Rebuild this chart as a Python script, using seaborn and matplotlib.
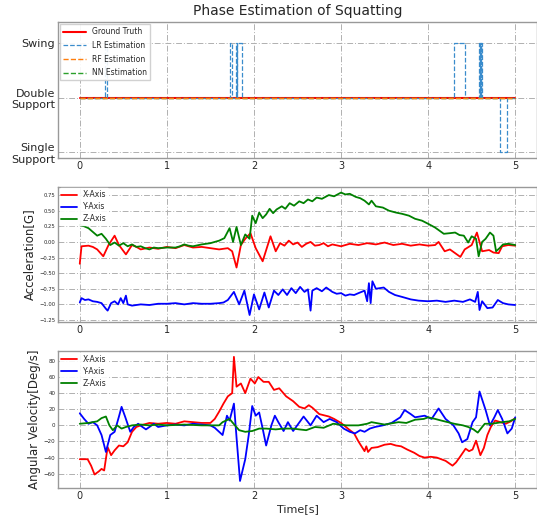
import numpy as np
import pandas as pd
import matplotlib
matplotlib.use('Agg')
import matplotlib.pyplot as plt
import seaborn as sns

# phase levels
phase_names = ['Single\nSupport', 'Double\nSupport', 'Swing']

# ground truth / RF / NN stay in double support the whole time
gt_t = [0.0, 5.0]
gt_phase = [1, 1]
rf_phase = [1, 1]
nn_phase = [1, 1]

# LR estimation: (start, end, phase) pulses away from double support
lr_pulses = [(0.29, 0.31, 2), (1.72, 1.75, 2), (1.79, 1.80, 2), (1.81, 1.86, 2),
             (4.30, 4.42, 2), (4.585, 4.592, 2), (4.597, 4.604, 2), (4.608, 4.615, 2),
             (4.82, 4.90, 0)]

# acceleration [G]
acc_x_t = [0.0, 0.02, 0.1, 0.15, 0.2, 0.27, 0.33, 0.4, 0.45, 0.53, 0.6, 0.65, 0.7, 0.8, 0.9, 1.0, 1.1, 1.2, 1.3, 1.4,
           1.5, 1.6, 1.7, 1.75, 1.8, 1.85, 1.9, 1.96, 2.02, 2.1, 2.19, 2.25, 2.3, 2.35, 2.4, 2.45, 2.5, 2.55, 2.6, 2.65,
           2.7, 2.75, 2.8, 2.85, 2.9, 3.0, 3.1, 3.2, 3.3, 3.4, 3.5, 3.6, 3.7, 3.8, 3.9, 4.0, 4.08, 4.12, 4.19, 4.25,
           4.3, 4.37, 4.42, 4.5, 4.56, 4.62, 4.7, 4.75, 4.81, 4.85, 4.92, 5.0]
acc_x = [-0.35, -0.07, -0.06, -0.08, -0.12, -0.23, -0.05, 0.10, -0.05, -0.2, -0.05, -0.08, -0.12, -0.09, -0.11, -0.08,
         -0.10, -0.05, -0.09, -0.08, -0.10, -0.12, -0.1, -0.15, -0.41, -0.05, 0.05, 0.14, -0.1, -0.31, 0.09, -0.15,
         -0.02, -0.06, 0.02, -0.04, -0.01, -0.08, -0.03, 0.0, -0.06, -0.05, -0.02, -0.07, -0.04, -0.07, -0.03, -0.05,
         -0.02, -0.04, -0.01, -0.05, -0.03, -0.06, -0.04, -0.06, -0.05, 0.0, -0.15, -0.12, -0.17, -0.24, -0.12, -0.05,
         0.15, -0.15, -0.13, -0.17, -0.18, -0.07, -0.05, -0.06]

acc_y_t = [0.0, 0.02, 0.06, 0.1, 0.15, 0.2, 0.25, 0.3, 0.32, 0.36, 0.4, 0.44, 0.47, 0.5, 0.53, 0.55, 0.6, 0.7, 0.8, 0.9,
           1.0, 1.1, 1.2, 1.3, 1.4, 1.5, 1.6, 1.65, 1.7, 1.77, 1.83, 1.89, 1.95, 2.0, 2.06, 2.12, 2.17, 2.23, 2.28, 2.33,
           2.38, 2.43, 2.48, 2.53, 2.58, 2.62, 2.65, 2.67, 2.72, 2.78, 2.83, 2.9, 2.95, 3.0, 3.05, 3.1, 3.15, 3.2, 3.27,
           3.3, 3.32, 3.34, 3.36, 3.4, 3.49, 3.55, 3.62, 3.7, 3.8, 3.89, 4.0, 4.1, 4.2, 4.3, 4.4, 4.48, 4.54, 4.57,
           4.59, 4.62, 4.68, 4.74, 4.8, 4.86, 4.92, 5.0]
acc_y = [-0.97, -0.9, -0.93, -0.92, -0.95, -0.96, -0.98, -1.07, -1.10, -0.98, -0.95, -1.0, -0.9, -0.98, -0.86, -1.0,
         -1.02, -1.0, -1.01, -0.99, -0.99, -0.98, -1.0, -0.98, -0.99, -0.99, -0.98, -0.97, -0.93, -0.8, -1.0, -0.78,
         -1.17, -0.84, -1.08, -0.81, -1.05, -0.78, -0.85, -0.76, -0.85, -0.74, -0.82, -0.72, -0.8, -0.76, -1.10, -0.78,
         -0.74, -0.79, -0.73, -0.8, -0.83, -0.82, -0.86, -0.84, -0.85, -0.82, -0.78, -0.95, -0.66, -0.98, -0.63, -0.75,
         -0.73, -0.8, -0.85, -0.88, -0.92, -0.94, -0.95, -0.94, -0.96, -0.94, -0.96, -0.92, -0.96, -0.8, -1.09, -0.95,
         -1.06, -1.05, -0.93, -0.98, -1.0, -1.01]

acc_z_t = [0.0, 0.05, 0.1, 0.15, 0.2, 0.25, 0.3, 0.35, 0.4, 0.45, 0.5, 0.55, 0.6, 0.65, 0.7, 0.75, 0.8, 0.85, 0.9, 1.0,
           1.1, 1.15, 1.2, 1.25, 1.3, 1.4, 1.5, 1.6, 1.66, 1.72, 1.76, 1.8, 1.85, 1.9, 1.95, 1.98, 2.02, 2.06, 2.1, 2.14,
           2.18, 2.22, 2.26, 2.32, 2.36, 2.41, 2.46, 2.52, 2.57, 2.62, 2.67, 2.72, 2.78, 2.86, 2.92, 3.0, 3.05, 3.1,
           3.17, 3.22, 3.27, 3.32, 3.35, 3.4, 3.48, 3.55, 3.63, 3.7, 3.78, 3.85, 3.93, 4.0, 4.08, 4.13, 4.18, 4.25, 4.31,
           4.36, 4.41, 4.46, 4.5, 4.55, 4.58, 4.62, 4.66, 4.71, 4.75, 4.78, 4.82, 4.86, 4.92, 5.0]
acc_z = [0.27, 0.25, 0.22, 0.16, 0.10, 0.13, 0.05, -0.05, -0.01, -0.06, -0.02, -0.07, -0.04, -0.08, -0.07, -0.1, -0.12,
         -0.09, -0.1, -0.09, -0.09, -0.07, -0.04, -0.06, -0.07, -0.04, -0.02, 0.02, 0.06, 0.22, 0.0, 0.24, -0.05, 0.12,
         0.05, 0.42, 0.30, 0.47, 0.38, 0.44, 0.53, 0.46, 0.52, 0.57, 0.53, 0.62, 0.58, 0.65, 0.62, 0.68, 0.65, 0.71,
         0.69, 0.75, 0.73, 0.79, 0.76, 0.77, 0.72, 0.7, 0.66, 0.6, 0.66, 0.57, 0.55, 0.5, 0.47, 0.45, 0.42, 0.37, 0.34,
         0.29, 0.23, 0.18, 0.13, 0.14, 0.15, 0.11, 0.1, -0.01, 0.09, 0.05, -0.23, 0.0, 0.05, 0.15, 0.1, -0.15, -0.1,
         -0.04, -0.03, -0.05]

# angular velocity [deg/s]
gyr_x_t = [0.0, 0.09, 0.13, 0.17, 0.22, 0.25, 0.28, 0.32, 0.36, 0.4, 0.45, 0.5, 0.55, 0.6, 0.65, 0.7, 0.8, 0.9, 1.0, 1.1,
           1.2, 1.3, 1.4, 1.5, 1.55, 1.6, 1.65, 1.7, 1.75, 1.77, 1.8, 1.85, 1.9, 1.96, 2.01, 2.05, 2.11, 2.17, 2.23,
           2.29, 2.37, 2.45, 2.52, 2.58, 2.63, 2.67, 2.75, 2.86, 2.92, 3.0, 3.09, 3.15, 3.2, 3.27, 3.29, 3.31, 3.35,
           3.42, 3.5, 3.57, 3.63, 3.69, 3.76, 3.84, 3.9, 3.96, 4.03, 4.1, 4.15, 4.2, 4.28, 4.32, 4.36, 4.43, 4.47, 4.51,
           4.55, 4.6, 4.64, 4.68, 4.72, 4.77, 4.83, 4.89, 4.95, 5.0]
gyr_x = [-42, -42, -50, -61, -57, -54, -56, -27, -37, -31, -25, -26, -21, -8, -2, 0, 3, 2, 3, 2, 5, 4, 3, 3, 8, 17, 27,
         36, 40, 85, 48, 52, 40, 58, 52, 60, 54, 54, 44, 46, 36, 30, 23, 21, 25, 22, 14, 11, 8, 3, -5, -10, -20, -32,
         -26, -33, -28, -27, -24, -23, -25, -26, -30, -34, -38, -40, -39, -40, -42, -44, -50, -46, -40, -29, -32, -30,
         -19, -37, -28, -12, -2, 6, 4, 2, 5, 9]

gyr_y_t = [0.0, 0.05, 0.1, 0.15, 0.2, 0.25, 0.3, 0.35, 0.4, 0.45, 0.48, 0.52, 0.58, 0.62, 0.67, 0.72, 0.76, 0.8, 0.85,
           0.9, 1.0, 1.1, 1.2, 1.3, 1.4, 1.5, 1.55, 1.6, 1.64, 1.69, 1.72, 1.77, 1.8, 1.84, 1.9, 1.94, 1.98, 2.02, 2.06,
           2.1, 2.14, 2.2, 2.24, 2.28, 2.34, 2.39, 2.45, 2.51, 2.57, 2.65, 2.72, 2.8, 2.87, 2.95, 3.03, 3.1, 3.16, 3.22,
           3.27, 3.33, 3.39, 3.48, 3.58, 3.68, 3.73, 3.8, 3.85, 3.96, 4.04, 4.12, 4.2, 4.29, 4.35, 4.39, 4.45, 4.51,
           4.55, 4.59, 4.66, 4.71, 4.76, 4.8, 4.85, 4.91, 4.96, 5.0]
gyr_y = [15, 8, 2, 4, 0, -12, -33, -12, -8, 11, 23, 11, -8, -2, 2, -2, -5, -2, 2, -2, 0, 1, 0, 2, 1, 0, -3, -8, -12, 12,
         6, 27, -15, -69, -42, -12, 24, 12, 16, -4, -25, 0, 12, 4, -7, 4, -7, 2, 11, 0, 12, 4, 8, 4, -4, -8, -10, -6,
         -8, -4, -2, 0, 3, 10, 19, 14, 10, 12, 8, 21, 8, 0, -10, -21, -17, 4, 10, 42, 19, 0, 10, 19, 8, -10, -4, 10]

gyr_z_t = [0.0, 0.1, 0.15, 0.2, 0.25, 0.3, 0.34, 0.38, 0.43, 0.48, 0.53, 0.6, 0.7, 0.8, 0.9, 1.0, 1.2, 1.4, 1.6, 1.64,
           1.72, 1.75, 1.83, 1.9, 1.98, 2.06, 2.14, 2.25, 2.34, 2.45, 2.52, 2.6, 2.7, 2.8, 2.91, 3.06, 3.2, 3.3, 3.35,
           3.5, 3.66, 3.75, 3.85, 3.95, 4.0, 4.08, 4.15, 4.3, 4.4, 4.46, 4.52, 4.57, 4.62, 4.65, 4.73, 4.85, 4.93, 5.0]
gyr_z = [2, 3, 4, 5, 9, 11, 0, -6, 0, -4, -2, 0, 1, 0, 1, 0, 1, 0, 0, 4, 8, 4, -6, -8, -7, -4, -4, -5, -4, -4, -5, -6,
         -2, -3, 2, 0, 0, 2, 4, 1, 4, 3, 7, 8, 10, 8, 6, 2, 0, -2, -5, -9, -2, 2, 2, 4, 5, 8]

# build LR step series from the pulses
lr_t = [0.0]
lr_phase = [1]
for start, end, level in lr_pulses:
    lr_t += [start, start, end, end]
    lr_phase += [1, level, level, 1]
lr_t.append(5.0)
lr_phase.append(1)

sns.set_style("whitegrid")
plt.rcParams['font.family'] = ['DejaVu Sans']

fig = plt.figure(figsize=(5.37, 5.15), dpi=100)
ax1 = fig.add_axes([0.108, 0.693, 0.892, 0.264])
ax2 = fig.add_axes([0.108, 0.375, 0.892, 0.262])
ax3 = fig.add_axes([0.108, 0.052, 0.892, 0.266])

grid_kw = dict(color='#b0b0b0', linestyle=(0, (6, 2, 1, 2)), linewidth=0.7)

# phase panel
sns.lineplot(x=gt_t, y=gt_phase, ax=ax1, color='red', linewidth=1.5, label='Ground Truth')
sns.lineplot(x=lr_t, y=lr_phase, ax=ax1, color='#3a8ccc', linewidth=0.9, linestyle='--',
             estimator=None, sort=False, label='LR Estimation')
sns.lineplot(x=gt_t, y=nn_phase, ax=ax1, color='#2ca02c', linewidth=1.0, linestyle='--', label='NN Estimation')
sns.lineplot(x=gt_t, y=rf_phase, ax=ax1, color='#ff7f0e', linewidth=1.0, linestyle='--', label='RF Estimation')
h, l = ax1.get_legend_handles_labels()
order = [0, 1, 3, 2]
ax1.legend([h[i] for i in order], [l[i] for i in order], loc='upper left', fontsize=5.5,
           frameon=True, edgecolor='#cccccc', framealpha=0.9, fancybox=False, handlelength=3,
           labelspacing=0.6, borderaxespad=0.3)
ax1.set_yticks([0, 1, 2])
ax1.set_yticklabels(phase_names, fontsize=8)
ax1.set_ylim(-0.11, 2.39)
ax1.set_title('Phase Estimation of Squatting', fontsize=10, pad=5)

# acceleration panel
sns.lineplot(x=acc_x_t, y=acc_x, ax=ax2, color='red', linewidth=1.3, estimator=None, label='X-Axis')
sns.lineplot(x=acc_y_t, y=acc_y, ax=ax2, color='blue', linewidth=1.3, estimator=None, label='Y-Axis')
sns.lineplot(x=acc_z_t, y=acc_z, ax=ax2, color='green', linewidth=1.3, estimator=None, label='Z-Axis')
ax2.legend(loc='upper left', fontsize=5.5, frameon=True, edgecolor='white', framealpha=0.9,
           labelspacing=0.4, borderaxespad=0.2, borderpad=0.25)
ax2.set_yticks(np.arange(-1.25, 0.76, 0.25))
ax2.set_ylim(-1.28, 0.88)
ax2.set_ylabel('Acceleration[G]', fontsize=8.5, labelpad=2)

# gyro panel
sns.lineplot(x=gyr_x_t, y=gyr_x, ax=ax3, color='red', linewidth=1.3, estimator=None, label='X-Axis')
sns.lineplot(x=gyr_y_t, y=gyr_y, ax=ax3, color='blue', linewidth=1.3, estimator=None, label='Y-Axis')
sns.lineplot(x=gyr_z_t, y=gyr_z, ax=ax3, color='green', linewidth=1.3, estimator=None, label='Z-Axis')
ax3.legend(loc='upper left', fontsize=5.5, frameon=True, edgecolor='white', framealpha=0.9,
           labelspacing=0.4, borderaxespad=0.2, borderpad=0.25)
ax3.set_yticks(np.arange(-60, 81, 20))
ax3.set_ylim(-78, 92)
ax3.set_ylabel('Angular Velocity[Deg/s]', fontsize=8.5, labelpad=2)
ax3.set_xlabel('Time[s]', fontsize=8, labelpad=2)

for ax in (ax1, ax2, ax3):
    ax.set_xlim(-0.25, 5.25)
    ax.set_xticks(range(6))
    ax.grid(True, **grid_kw)
    ax.tick_params(axis='x', labelsize=7, pad=2, length=0)
    ax.tick_params(axis='y', length=0, pad=2)
    for s in ax.spines.values():
        s.set_color('#999999')
        s.set_linewidth(1.0)
ax2.tick_params(axis='y', labelsize=3.8)
ax3.tick_params(axis='y', labelsize=4)
ax1.set_xlabel('')
ax2.set_xlabel('')

fig.savefig('out.png', dpi=100)
